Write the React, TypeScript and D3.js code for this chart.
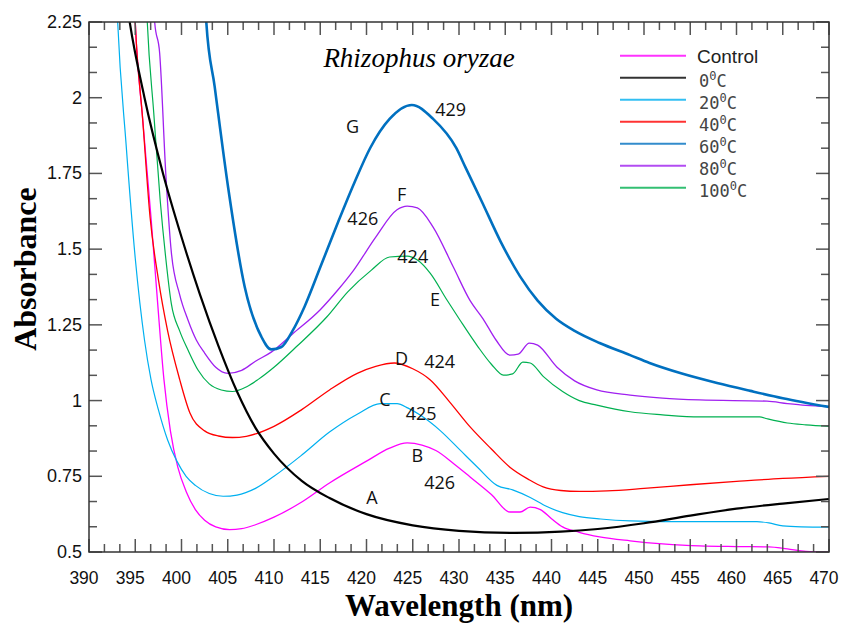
import React, { useRef, useEffect } from 'react';
import * as d3 from 'd3';

type Pt = [number, number];

// wavelength (nm), absorbance
const control: Pt[] = [
  [394.8, 2.4], [395.0, 2.25], [395.8, 1.93], [396.7, 1.606], [397.4, 1.33], [398.1, 1.07],
  [398.8, 0.9], [399.6, 0.78], [400.5, 0.7], [401.5, 0.64], [402.5, 0.605], [403.7, 0.583],
  [405.2, 0.574], [406.5, 0.577], [408, 0.59], [410, 0.615], [413, 0.665], [416, 0.728],
  [420, 0.8], [422.5, 0.843], [424.4, 0.86], [426, 0.853], [427.5, 0.835], [429.5, 0.79],
  [431.2, 0.748], [433.5, 0.69], [435.5, 0.632], [436.6, 0.632], [437.7, 0.648], [438.8, 0.64],
  [440, 0.61], [441.2, 0.583], [443, 0.565], [445.2, 0.55], [448.5, 0.537], [452, 0.527],
  [456, 0.52], [460, 0.518], [463.5, 0.517], [465.5, 0.51], [467.5, 0.502], [470, 0.5],
];

const c0: Pt[] = [
  [394.2, 2.29], [394.4, 2.25], [396, 2.0], [398, 1.75], [400, 1.54], [402, 1.35],
  [404, 1.18], [406, 1.03], [408, 0.91], [410, 0.825], [413, 0.735], [416, 0.678],
  [420, 0.625], [425, 0.588], [430, 0.57], [436, 0.563], [441, 0.567], [445, 0.576],
  [450, 0.595], [455, 0.62], [460, 0.643], [465, 0.66], [470, 0.675],
];

const c20: Pt[] = [
  [392.9, 2.4], [393.1, 2.25], [394.0, 1.85], [395.0, 1.47], [396.0, 1.2], [396.7, 1.07],
  [397.5, 0.97], [398.5, 0.87], [399.5, 0.8], [400.5, 0.75], [401.5, 0.72], [403, 0.693],
  [404.5, 0.684], [406, 0.688], [408, 0.71], [410, 0.75], [413, 0.82], [416, 0.896],
  [419, 0.955], [421.5, 0.99], [423.3, 0.99], [424.5, 0.975], [425.8, 0.952], [428, 0.9],
  [430.1, 0.837], [432, 0.78], [434.1, 0.72], [435.8, 0.705], [437.7, 0.68], [439.5, 0.65],
  [441.2, 0.63], [443, 0.617], [445.3, 0.609], [448.5, 0.603], [455, 0.6], [462.2, 0.6],
  [463.5, 0.596], [465, 0.586], [467, 0.583], [470, 0.582],
];

const c40: Pt[] = [
  [394.8, 2.4], [395.0, 2.25], [395.8, 1.93], [396.6, 1.606], [397.5, 1.4], [398.5, 1.23],
  [399.8, 1.07], [400.9, 0.96], [402.5, 0.9], [404, 0.883], [405.5, 0.878], [407, 0.882],
  [410, 0.915], [413, 0.97], [416, 1.035], [419, 1.09], [421, 1.113], [423, 1.124],
  [425, 1.105], [426.9, 1.068], [429, 0.995], [431.2, 0.913], [433.5, 0.84], [435.5, 0.78],
  [437.5, 0.74], [439.1, 0.715], [441, 0.703], [443, 0.7], [446, 0.702], [450, 0.71],
  [455, 0.722], [460, 0.733], [465, 0.743], [470, 0.75],
];

const c60: Pt[] = [
  [402.5, 2.4], [402.68, 2.25], [403.59, 2.036], [405.03, 1.706], [406.83, 1.376],
  [408.63, 1.211], [409.7, 1.169], [410.8, 1.177], [412, 1.23], [413.3, 1.31], [415, 1.44],
  [416.9, 1.587], [418.7, 1.72], [420.4, 1.834], [422.5, 1.93], [424.9, 1.976], [427.2, 1.93],
  [429.7, 1.834], [430.7, 1.77], [432.5, 1.655], [434.5, 1.525], [436.6, 1.41], [438.5, 1.33],
  [440.5, 1.27], [442.5, 1.23], [445.2, 1.19], [448.5, 1.15], [450.6, 1.124], [454, 1.09],
  [457.9, 1.058], [461.5, 1.032], [465, 1.008], [470, 0.979],
];

const c80: Pt[] = [
  [396.9, 2.4], [397.1, 2.25], [397.64, 2.147], [398.3, 1.75], [398.9, 1.49], [399.8, 1.35],
  [400.7, 1.266], [401.6, 1.2], [402.5, 1.157], [403.7, 1.11], [405, 1.09], [406.5, 1.1],
  [408, 1.13], [409.7, 1.16], [412, 1.22], [415, 1.3], [416.9, 1.365], [418.6, 1.43],
  [421, 1.54], [423.3, 1.63], [424.4, 1.642], [425.5, 1.636], [427.2, 1.573], [429.4, 1.44],
  [431.2, 1.33], [432.6, 1.27], [434, 1.2], [435.5, 1.15], [436.4, 1.153], [437.6, 1.19],
  [438.5, 1.183], [440.6, 1.11], [442.5, 1.065], [444.9, 1.035], [448.5, 1.018], [452, 1.008],
  [456, 1.002], [463.3, 0.998], [465.5, 0.99], [467.5, 0.984], [470, 0.98],
];

const c100: Pt[] = [
  [396.1, 2.4], [396.3, 2.25], [397.0, 1.95], [397.7, 1.66], [398.3, 1.47], [398.9, 1.32],
  [399.8, 1.23], [400.7, 1.167], [401.8, 1.1], [403, 1.055], [404.3, 1.035], [405.5, 1.03],
  [407, 1.045], [408.3, 1.07], [410, 1.11], [412.5, 1.18], [415.7, 1.276], [418, 1.36],
  [420.5, 1.43], [422.5, 1.474], [424.4, 1.477], [425.5, 1.464], [426.9, 1.42], [428.7, 1.332],
  [430.1, 1.266], [432, 1.18], [433.5, 1.12], [434.8, 1.084], [435.8, 1.088], [436.9, 1.127],
  [437.7, 1.124], [439.1, 1.08], [441.2, 1.03], [443, 1.0], [444.9, 0.985], [448.5, 0.963],
  [452, 0.953], [456, 0.946], [462.5, 0.946], [463.3, 0.94], [465.5, 0.926], [467.5, 0.92],
  [470, 0.915],
];

const seriesNames = ['Control', '0', '20', '40', '60', '80', '100'];
const seriesColors = ['#ff00ff', '#000000', '#00b0f0', '#ff0000', '#0070c0', '#a020f0', '#00b050'];
const seriesWidths = [1.3, 2.2, 1.2, 1.3, 2.6, 1.3, 1.2];
const seriesData = [control, c0, c20, c40, c60, c80, c100];

const xTicks = d3.range(390, 471, 5);
const yTicks = [0.5, 0.75, 1, 1.25, 1.5, 1.75, 2, 2.25];

// peak annotations: text, wavelength, absorbance
const notes: [string, number, number][] = [
  ['G', 418.5, 1.905], ['429', 429.1, 1.962], ['F', 423.8, 1.68], ['426', 419.6, 1.6],
  ['424', 425.0, 1.477], ['E', 427.4, 1.335], ['D', 423.8, 1.14], ['424', 427.9, 1.13],
  ['C', 422.0, 1.005], ['425', 425.9, 0.958], ['B', 425.5, 0.817], ['426', 427.9, 0.728],
  ['A', 420.6, 0.679],
];

const App = () => {
  const svgRef = useRef<SVGSVGElement>(null);

  useEffect(() => {
    const svg = d3.select(svgRef.current);
    svg.selectAll('*').remove();

    const left = 89, right = 829, top = 22, bottom = 552;
    const x = d3.scaleLinear().domain([390, 470]).range([left, right]);
    const y = d3.scaleLinear().domain([0.5, 2.25]).range([bottom, top]);

    svg.append('defs').append('clipPath').attr('id', 'plot-clip')
      .append('rect').attr('x', left).attr('y', top)
      .attr('width', right - left).attr('height', bottom - top);

    const line = d3.line<Pt>()
      .x(d => x(d[0]))
      .y(d => y(d[1]))
      .curve(d3.curveMonotoneX);

    const curves = svg.append('g').attr('clip-path', 'url(#plot-clip)');
    const order = [0, 2, 3, 6, 5, 1, 4];
    order.forEach(i => {
      curves.append('path')
        .datum(seriesData[i])
        .attr('fill', 'none')
        .attr('stroke', seriesColors[i])
        .attr('stroke-width', seriesWidths[i])
        .attr('stroke-linejoin', 'round')
        .attr('d', line);
    });

    // ticks, inward on all four sides
    const tickG = svg.append('g').attr('stroke', '#555').attr('stroke-width', 1.5);
    const xMinor = d3.range(0, 49).map(k => 390 + (k * 5) / 3);
    xMinor.forEach((v, k) => {
      const len = k % 3 === 0 ? 13 : 8;
      tickG.append('line').attr('x1', x(v)).attr('x2', x(v)).attr('y1', bottom).attr('y2', bottom - len);
      tickG.append('line').attr('x1', x(v)).attr('x2', x(v)).attr('y1', top).attr('y2', top + len);
    });
    const yMinor = d3.range(0, 22).map(k => 0.5 + (k * 0.25) / 3);
    yMinor.forEach((v, k) => {
      const len = k % 3 === 0 ? 13 : 8;
      tickG.append('line').attr('x1', left).attr('x2', left + len).attr('y1', y(v)).attr('y2', y(v));
      tickG.append('line').attr('x1', right).attr('x2', right - len).attr('y1', y(v)).attr('y2', y(v));
    });

    svg.append('rect')
      .attr('x', left).attr('y', top)
      .attr('width', right - left).attr('height', bottom - top)
      .attr('fill', 'none').attr('stroke', '#333').attr('stroke-width', 1.5);

    // tick labels
    svg.append('g').selectAll('text').data(xTicks).join('text')
      .attr('x', d => x(d) - 5).attr('y', bottom + 32)
      .attr('text-anchor', 'middle')
      .attr('font-family', 'Liberation Sans, Arial, sans-serif')
      .attr('font-size', 17.5).attr('fill', '#111')
      .text(d => d);

    svg.append('g').selectAll('text').data(yTicks).join('text')
      .attr('x', left - 7).attr('y', d => y(d) + 6)
      .attr('text-anchor', 'end')
      .attr('font-family', 'Liberation Sans, Arial, sans-serif')
      .attr('font-size', 18).attr('fill', '#111')
      .text(d => d);

    // axis titles
    svg.append('text')
      .attr('x', (left + right) / 2).attr('y', 616)
      .attr('text-anchor', 'middle')
      .attr('font-family', 'Liberation Serif, Times New Roman, serif')
      .attr('font-weight', 'bold').attr('font-size', 31)
      .text('Wavelength (nm)');

    svg.append('text')
      .attr('transform', `translate(36, 269) rotate(-90)`)
      .attr('text-anchor', 'middle')
      .attr('font-family', 'Liberation Serif, Times New Roman, serif')
      .attr('font-weight', 'bold').attr('font-size', 32)
      .text('Absorbance');

    // title
    svg.append('text')
      .attr('x', 419).attr('y', 67)
      .attr('text-anchor', 'middle')
      .attr('font-family', 'Liberation Serif, Times New Roman, serif')
      .attr('font-style', 'italic').attr('font-size', 27)
      .text('Rhizophus oryzae');

    // peak labels
    svg.append('g').selectAll('text').data(notes).join('text')
      .attr('x', d => x(d[1])).attr('y', d => y(d[2]))
      .attr('dy', '0.36em')
      .attr('text-anchor', 'middle')
      .attr('font-family', 'Open Sans, sans-serif')
      .attr('font-size', 18).attr('fill', '#111')
      .text(d => d[0]);

    // legend
    const legend = svg.append('g');
    seriesNames.forEach((name, i) => {
      const ly = 55.7 + i * 22;
      legend.append('line')
        .attr('x1', 620).attr('x2', 686).attr('y1', ly).attr('y2', ly)
        .attr('stroke', seriesColors[i]).attr('stroke-width', 2).attr('opacity', 0.8);
      if (i === 0) {
        legend.append('text')
          .attr('x', 697).attr('y', ly + 7)
          .attr('font-family', 'Liberation Sans, Arial, sans-serif')
          .attr('font-size', 19).attr('fill', '#222')
          .text(name);
      } else {
        const t = legend.append('text')
          .attr('x', 699).attr('y', ly + 9)
          .attr('font-family', 'DejaVu Sans Mono, monospace')
          .attr('font-size', 17).attr('fill', '#444');
        t.append('tspan').text(name);
        t.append('tspan').attr('dy', -7).attr('font-size', 12).text('0');
        t.append('tspan').attr('dy', 7).text('C');
      }
    });
  }, []);

  return (
    <svg ref={svgRef} width={841} height={625}
      style={{ position: 'absolute', left: 0, top: 0, background: '#fff' }} />
  );
};

export default App;
